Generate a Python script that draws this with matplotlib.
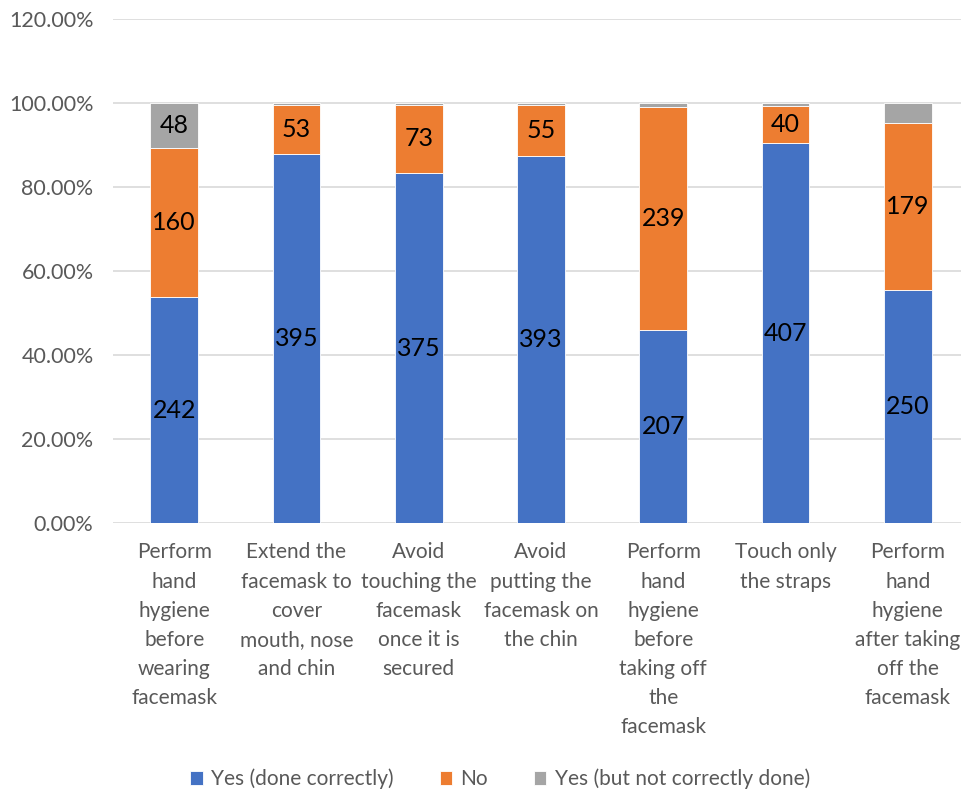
import matplotlib
matplotlib.use("Agg")
import matplotlib.pyplot as plt
import numpy as np
from matplotlib.ticker import PercentFormatter

plt.rcParams["font.family"] = ["Lato", "DejaVu Sans"]

categories = [
    "Perform\nhand\nhygiene\nbefore\nwearing\nfacemask",
    "Extend the\nfacemask to\ncover\nmouth, nose\nand chin",
    "Avoid\ntouching the\nfacemask\nonce it is\nsecured",
    "Avoid\nputting the\nfacemask on\nthe chin",
    "Perform\nhand\nhygiene\nbefore\ntaking off\nthe\nfacemask",
    "Touch only\nthe straps",
    "Perform\nhand\nhygiene\nafter taking\noff the\nfacemask",
]
yes_correct = [242, 395, 375, 393, 207, 407, 250]
no = [160, 53, 73, 55, 239, 40, 179]
yes_incorrect = [48, 2, 2, 2, 4, 3, 21]

series = [
    ("Yes (done correctly)", yes_correct, "#4472C4"),
    ("No", no, "#ED7D31"),
    ("Yes (but not correctly done)", yes_incorrect, "#A5A5A5"),
]

text_col = "#595959"
fig = plt.figure(figsize=(9.62, 7.91), dpi=100)
ax = fig.add_axes([113 / 962, 1 - 523 / 791, 856 / 962, 504 / 791])

totals = np.sum([s[1] for s in series], axis=0)
x = np.arange(len(categories))
bottom = np.zeros(len(categories))
handles = []
for name, vals, col in series:
    v = np.asarray(vals, dtype=float)
    frac = v / totals
    b = ax.bar(x, frac, 0.39, bottom=bottom, color=col, edgecolor="white",
               linewidth=0.6, label=name, zorder=3)
    handles.append(b)
    for xi, f, bo, val in zip(x, frac, bottom, v):
        if val >= 30:  # small segments have no label in the original
            ax.text(xi, bo + f / 2, f"{int(val)}", ha="center", va="center",
                    fontsize=18, color="black", zorder=4)
    bottom += frac

ax.set_xlim(-0.5, len(categories) - 0.5)
ax.set_ylim(0, 1.2)
ax.set_yticks(np.arange(0, 1.21, 0.2))
ax.yaxis.set_major_formatter(PercentFormatter(1.0, decimals=2))
ax.set_xticks(x)
ax.set_xticklabels(categories, linespacing=1.57)
ax.tick_params(axis="both", length=0, labelcolor=text_col)
ax.tick_params(axis="x", pad=14, labelsize=15)
ax.tick_params(axis="y", pad=14, labelsize=15.5)
ax.grid(axis="y", color="#D9D9D9", linewidth=1.2, zorder=0)
for sp in ax.spines.values():
    sp.set_visible(False)

leg = fig.legend(handles=handles, loc="center", bbox_to_anchor=(0.52, 1 - 779 / 791),
                 ncol=3, frameon=False, fontsize=15, handlelength=0.6,
                 handleheight=0.6, handletextpad=0.4, columnspacing=2.2)
for t in leg.get_texts():
    t.set_color(text_col)

fig.savefig("out.png", dpi=100)
